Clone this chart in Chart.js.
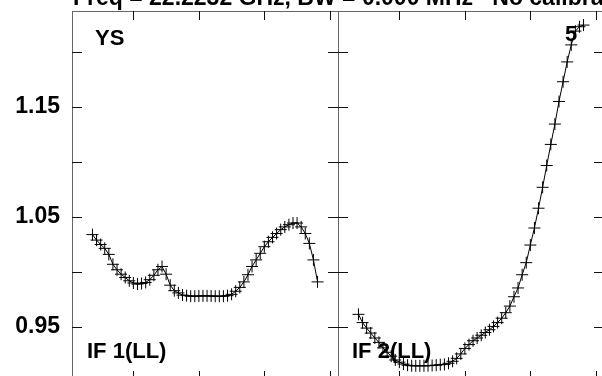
<!DOCTYPE html>
<html lang="en">
<head>
<meta charset="UTF-8">
<title>YS bandpass IF 1 / IF 2</title>
<style>
body {margin:0; background:#fff; overflow:hidden;}
#wrap {position:relative; width:602px; height:376px; overflow:hidden; background:#fff;}
#plot {position:absolute; left:0; top:0;}
</style>
</head>
<body>
<div id="wrap"><canvas id="plot" width="612" height="381"></canvas></div>
<script src="https://cdn.jsdelivr.net/npm/chart.js"></script>
<script>
// channels plotted in each IF panel
const channels = [6,7,8,9,10,11,12,13,14,15,16,17,18,19,20,21,22,23,24,25,26,27,28,29,30,31,32,33,
  34,35,36,37,38,39,40,41,42,43,44,45,46,47,48,49,50,51,52,53,54,55,56,57,58,59,60,61];

// amplitude, IF 1 (LL)
const ifOneValues = [1.034,1.029,1.025,1.0215,1.016,1.007,1.002,0.998,0.995,0.992,
  0.990,0.989,0.9895,0.9905,0.993,0.997,1.002,1.005,0.998,0.988,
  0.983,0.981,0.979,0.9785,0.978,0.978,0.9782,0.9783,0.9783,0.9782,
  0.978,0.978,0.978,0.9785,0.9797,0.9825,0.986,0.991,0.9975,1.005,
  1.011,1.017,1.023,1.0275,1.0315,1.035,1.0385,1.041,1.043,1.0445,
  1.0445,1.041,1.035,1.026,1.011,0.991];

// amplitude, IF 2 (LL)
const ifTwoValues = [0.9615,0.954,0.949,0.9445,0.940,0.936,0.931,0.927,0.9235,0.920,
  0.918,0.9163,0.9152,0.9148,0.9147,0.9147,0.9147,0.9148,0.915,0.9153,
  0.9157,0.916,0.917,0.9188,0.9215,0.9255,0.9305,0.934,0.9375,0.940,
  0.9425,0.945,0.9475,0.9505,0.954,0.958,0.963,0.969,0.9775,0.9855,
  0.9975,1.0085,1.0245,1.040,1.058,1.077,1.0968,1.116,1.1345,1.155,
  1.173,1.191,1.2065,1.219,1.223,1.2245];

const panelWidth = 65;            // channels per panel on the x scale
const xTickValues = [16,32,48,64]; // tick channels inside a panel
const yLabelValues = [0.95,1.05,1.15];
const titleText = 'Freq = 22.2232 GHz, BW = 0.000 MHz   No calibration';

const font = 'Arial, "Liberation Sans", Helvetica, sans-serif';

const ptsOne = channels.map((c,i)=>({x:c, y:ifOneValues[i]}));
const ptsTwo = channels.map((c,i)=>({x:c+panelWidth, y:ifTwoValues[i]}));

const framePlugin = {
  id:'frame',
  afterDatasetsDraw(chart){
    const {ctx, chartArea:a, scales:{x,y}} = chart;
    const mid = x.getPixelForValue(1+panelWidth);
    ctx.save();
    ctx.strokeStyle='#666'; ctx.lineWidth=1;
    ctx.strokeRect(a.left+0.5, a.top+0.5, a.right-a.left, a.bottom-a.top);
    ctx.beginPath(); ctx.moveTo(Math.round(mid)+0.5,a.top); ctx.lineTo(Math.round(mid)+0.5,a.bottom); ctx.stroke();
    ctx.strokeStyle='#111';
    ctx.beginPath();
    y.ticks.forEach(t=>{
      if(t.value<y.min||t.value>y.max) return;
      const py=Math.round(y.getPixelForValue(t.value))+0.5;
      ctx.moveTo(a.left,py); ctx.lineTo(a.left+10,py);
      ctx.moveTo(mid-10,py); ctx.lineTo(mid+10,py);
      ctx.moveTo(a.right-10,py); ctx.lineTo(a.right,py);
    });
    [0,panelWidth].forEach(off=>xTickValues.forEach(v=>{
      const px=Math.round(x.getPixelForValue(v+off))+0.5;
      ctx.moveTo(px,a.top); ctx.lineTo(px,a.top+9);
      ctx.moveTo(px,a.bottom-9); ctx.lineTo(px,a.bottom);
    }));
    ctx.stroke();
    ctx.fillStyle='#000';
    ctx.font='bold 22px '+font;
    ctx.textBaseline='alphabetic';
    ctx.textAlign='left';
    ctx.fillText('YS', a.left+23, a.top+34);
    ctx.fillText('IF 1(LL)', a.left+15, a.top+347);
    ctx.fillText('IF 2(LL)', mid+14, a.top+347);
    ctx.fillText('5', a.right-39, a.top+30);
    ctx.font='bold 23px '+font;
    ctx.fillText(titleText, a.left+1, 5);
    ctx.restore();
  }
};

new Chart(document.getElementById('plot'), {
  type:'line',
  data:{datasets:[
    {label:'IF 1(LL)', data:ptsOne},
    {label:'IF 2(LL)', data:ptsTwo}
  ]},
  options:{
    responsive:false, animation:false, devicePixelRatio:1,
    layout:{autoPadding:false, padding:{top:11, right:8, bottom:1, left:0}},
    elements:{
      line:{borderColor:'#000', borderWidth:1, tension:0},
      point:{pointStyle:'cross', radius:6, borderColor:'#000', borderWidth:1, backgroundColor:'#000'}
    },
    plugins:{legend:{display:false}, tooltip:{enabled:false}},
    scales:{
      x:{type:'linear', min:1, max:1+2*panelWidth, display:false},
      y:{min:0.9018, max:1.2373,
        grid:{display:false, drawTicks:false}, border:{display:false},
        ticks:{stepSize:0.05, includeBounds:false, padding:12, color:'#000',
          font:{family:font, size:23, weight:'bold'},
          callback:v=>yLabelValues.some(l=>Math.abs(l-v)<1e-6)?v.toFixed(2):''},
        afterFit:s=>{s.width=72; s.paddingTop=0; s.paddingBottom=0;}}
    }
  },
  plugins:[framePlugin]
});
</script>
</body>
</html>
